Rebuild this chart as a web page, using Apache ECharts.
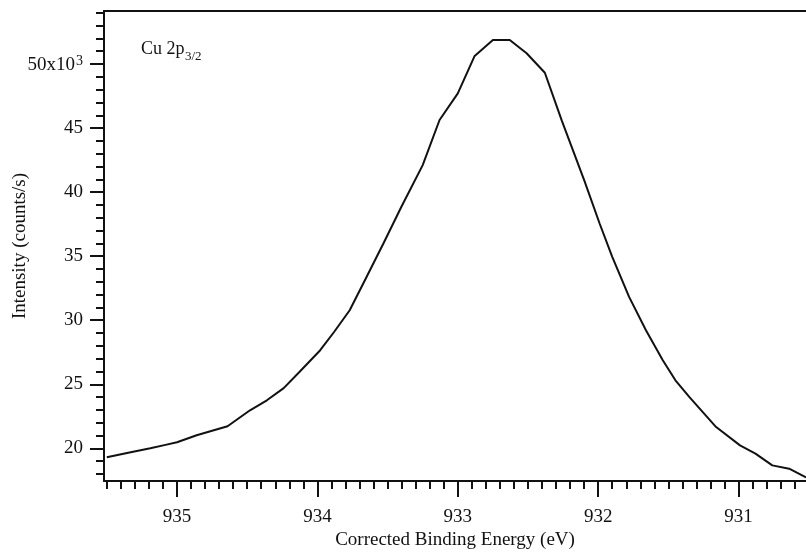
<!DOCTYPE html>
<html>
<head>
<meta charset="utf-8">
<script src="https://cdn.jsdelivr.net/npm/echarts@6/dist/echarts.min.js"></script>
<style>
  html, body { margin: 0; padding: 0; background: #fff; }
  #chart { width: 806px; height: 552px; }
</style>
</head>
<body>
<div id="chart"></div>
<script>
// binding energy (eV) and intensity (counts/s)
const energy = [
  935.50, 935.33, 935.19, 935.09, 935.00, 934.86, 934.64, 934.48, 934.36, 934.24,
  934.13, 933.98, 933.88, 933.77, 933.65, 933.53, 933.40, 933.25, 933.13, 933.00,
  932.88, 932.75, 932.63, 932.51, 932.38, 932.26, 932.10, 931.99, 931.90, 931.78,
  931.66, 931.54, 931.45, 931.35, 931.16, 930.99, 930.88, 930.76, 930.64, 930.52
]
const intensity = [
  19300, 19690, 20000, 20250, 20470, 21020, 21720, 22970, 23750, 24700,
  25940, 27660, 29100, 30780, 33380, 35990, 38900, 42110, 45630, 47710,
  50630, 51880, 51880, 50840, 49320, 45600, 40940, 37550, 34950, 31820,
  29220, 26880, 25310, 24000, 21660, 20230, 19590, 18670, 18410, 17730
]

// tick labels
const xMajor = [931, 932, 933, 934, 935]
const yMajor = [20000, 25000, 30000, 35000, 40000, 45000, 50000]

// minor ticks: every 0.1 eV and every 1000 counts
const xMinor = []
for (let i = 9306; i <= 9355; i++) xMinor.push(i / 10)
const yMinor = []
for (let v = 18000; v <= 54000; v += 1000) yMinor.push(v)

const X_MIN = 930.52, X_MAX = 935.52
const Y_MIN = 17450, Y_MAX = 54140

const FONT = 'Liberation Serif'
const INK = '#111'

const chart = echarts.init(document.getElementById('chart'))

const baseX = {
  type: 'value',
  inverse: true,
  min: X_MIN,
  max: X_MAX,
  splitLine: { show: false },
  axisLabel: { show: false },
  axisTick: { show: false },
  axisLine: { show: false }
}
const baseY = {
  type: 'value',
  min: Y_MIN,
  max: Y_MAX,
  splitLine: { show: false },
  axisLabel: { show: false },
  axisTick: { show: false },
  axisLine: { show: false }
}

const option = {
  animation: false,
  backgroundColor: '#fff',
  grid: { left: 104, right: 0, top: 11, bottom: 71, outerBoundsMode: 'none', containLabel: false },
  xAxis: [
    {
      ...baseX,
      position: 'bottom',
      name: 'Corrected Binding Energy (eV)',
      nameLocation: 'middle',
      nameGap: 50,
      nameMoveOverlap: false,
      nameTextStyle: { fontFamily: FONT, fontSize: 19, color: INK },
      axisLine: { show: true, lineStyle: { color: INK, width: 2 } },
      axisTick: { show: true, customValues: xMajor, length: 16, lineStyle: { color: INK, width: 2 } },
      axisLabel: {
        show: true, customValues: xMajor, margin: 27,
        fontFamily: FONT, fontSize: 19, color: INK
      }
    },
    {
      ...baseX,
      position: 'bottom',
      axisTick: { show: true, customValues: xMinor, length: 8, lineStyle: { color: INK, width: 2 } }
    },
    {
      ...baseX,
      position: 'top',
      axisLine: { show: true, lineStyle: { color: INK, width: 2 } }
    }
  ],
  yAxis: [
    {
      ...baseY,
      position: 'left',
      name: 'Intensity (counts/s)',
      nameLocation: 'middle',
      nameGap: 74,
      nameMoveOverlap: false,
      nameTextStyle: { fontFamily: FONT, fontSize: 19, color: INK },
      axisLine: { show: true, lineStyle: { color: INK, width: 2 } },
      axisTick: { show: true, customValues: yMajor, length: 14, lineStyle: { color: INK, width: 2 } },
      axisLabel: {
        show: true, customValues: yMajor, margin: 21,
        fontFamily: FONT, fontSize: 19, color: INK,
        formatter: v => v === 50000 ? '{a|50x10}{s|3}' : String(v / 1000),
        rich: {
          a: { fontFamily: FONT, fontSize: 19, color: INK, verticalAlign: 'bottom', lineHeight: 20 },
          s: { fontFamily: FONT, fontSize: 14, color: INK, verticalAlign: 'top', lineHeight: 20, padding: [0, 0, 0, 1] }
        }
      }
    },
    {
      ...baseY,
      position: 'left',
      axisTick: { show: true, customValues: yMinor, length: 8, lineStyle: { color: INK, width: 2 } }
    }
  ],
  graphic: [
    {
      type: 'text', left: 141, top: 40,
      style: { text: 'Cu 2p', fontFamily: FONT, fontSize: 18, fill: INK }
    },
    {
      type: 'text', left: 185, top: 50,
      style: { text: '3/2', fontFamily: FONT, fontSize: 13, fill: INK }
    }
  ],
  series: [
    {
      type: 'line',
      xAxisIndex: 0,
      yAxisIndex: 0,
      data: energy.map((e, i) => [e, intensity[i]]),
      showSymbol: false,
      lineStyle: { color: INK, width: 2 }
    }
  ]
}

chart.setOption(option)
</script>
</body>
</html>
